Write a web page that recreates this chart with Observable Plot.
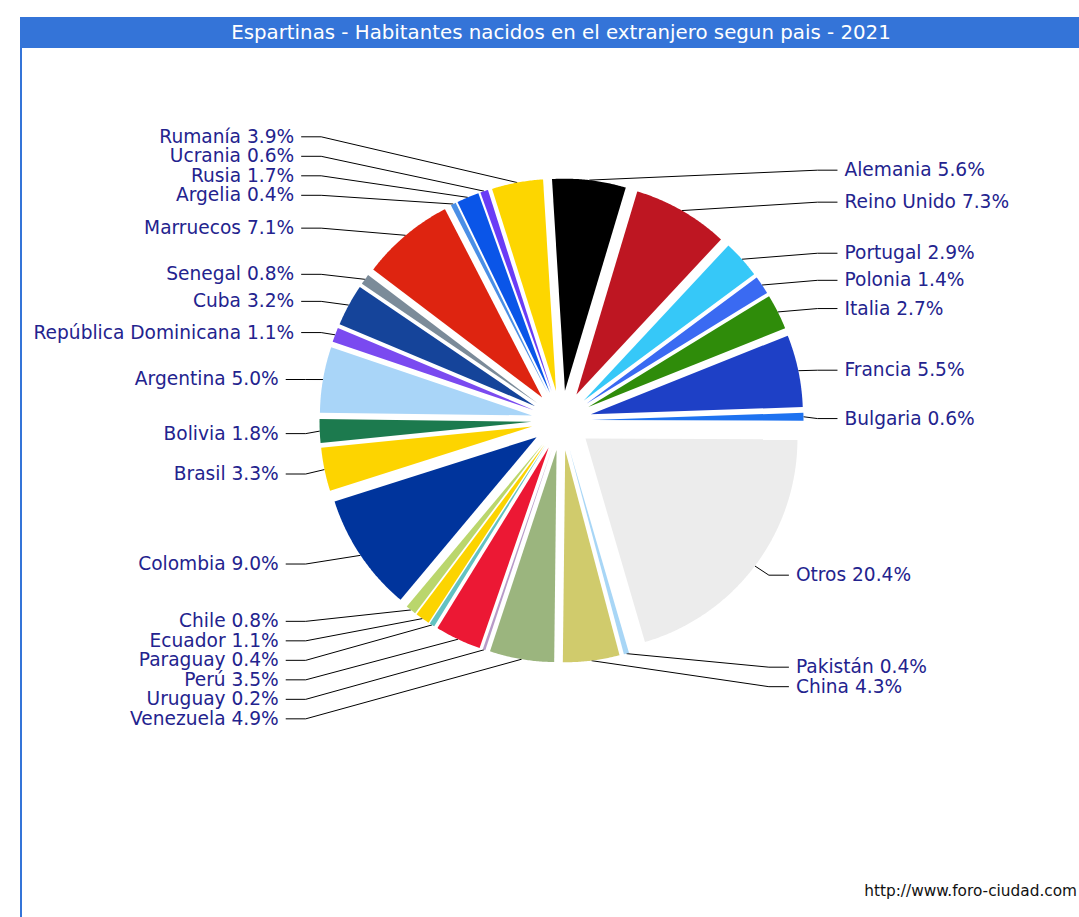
<!DOCTYPE html>
<html><head><meta charset="utf-8">
<script src="https://cdn.jsdelivr.net/npm/d3@7"></script>
<script src="https://cdn.jsdelivr.net/npm/@observablehq/plot@0.6"></script>
<style>
html,body{margin:0;padding:0;background:#fff;overflow:hidden;width:1079px;height:917px;}
#title{position:absolute;left:20px;top:17px;width:1082px;height:31px;background:#3474d8;color:#fff;font-family:"DejaVu Sans",sans-serif;font-size:16px;line-height:31px;text-align:center;white-space:nowrap;}
#title span{display:inline-block;}
#frame{position:absolute;left:20px;top:48px;width:1082px;height:869px;border-left:2px solid #3474d8;}
#chart{position:absolute;left:0;top:0;}
#source{position:absolute;right:2px;top:882px;font-family:"DejaVu Sans",sans-serif;font-size:14px;color:#111;white-space:nowrap;}
</style></head><body>
<div id="title"><span id="ttext">Espartinas - Habitantes nacidos en el extranjero segun pais - 2021</span></div>
<div id="frame"><div id="chart"></div></div>
<div id="source">http://www.foro-ciudad.com</div>
<script>
// ---- data (clockwise from the top) ----
const countries = ["Alemania","Reino Unido","Portugal","Polonia","Italia","Francia","Bulgaria","Otros","Pakistán","China","Venezuela","Uruguay","Perú","Paraguay","Ecuador","Chile","Colombia","Brasil","Bolivia","Argentina","República Dominicana","Cuba","Senegal","Marruecos","Argelia","Rusia","Ucrania","Rumanía"];
const shares = [5.6,7.3,2.9,1.4,2.7,5.5,0.6,20.4,0.4,4.3,4.9,0.2,3.5,0.4,1.1,0.8,9.0,3.3,1.8,5.0,1.1,3.2,0.8,7.1,0.4,1.7,0.6,3.9];
const palette = ["#000000","#be1622","#36c8f8","#3a6af2","#2f8c0a","#1e40c6","#1e72f0","#ececec","#a8d6f6","#d0cb6c","#9bb57e","#b89ac8","#ec1834","#62c2c2","#fcd400","#bad66c","#00349c","#fdd400","#1c7a4e","#a9d5f8","#7a4af0","#15449a","#7b8b99","#de2410","#4a8fe6","#0a55e8","#6a3cf6","#fdd600"];

// ---- layout (px in the svg) ----
const W = 1082, H = 869;
const CX = 539, CY = 372;
const R = 212, EXPLODE = 30, LABEL_R = 254, LABEL_DY = 2, GAP = 19.5, COL_PAD = 41;
const START = -3.5 * Math.PI / 180;

const arcs = d3.pie().sort(null).startAngle(START).endAngle(START + 2 * Math.PI)(shares);
const slices = arcs.map((a, i) => ({name: countries[i], value: shares[i], a0: a.startAngle, a1: a.endAngle, mid: (a.startAngle + a.endAngle) / 2}));

// slice polygons, in units of the pie radius (y grows downward)
const slicePts = [];
for (const s of slices) {
  const ox = EXPLODE / R * Math.sin(s.mid), oy = -EXPLODE / R * Math.cos(s.mid);
  slicePts.push({name: s.name, x: ox, y: oy});
  const n = Math.max(2, Math.ceil((s.a1 - s.a0) / (0.4 * Math.PI / 180)));
  for (let j = 0; j <= n; j++) {
    const a = s.a0 + (s.a1 - s.a0) * j / n;
    slicePts.push({name: s.name, x: ox + Math.sin(a), y: oy - Math.cos(a)});
  }
}

// label placement
const deg = a => ((a * 180 / Math.PI) % 360 + 360) % 360;
for (const s of slices) {
  const dg = deg(s.mid);
  s.side = Math.sin(s.mid) >= 0 ? "right" : "left";
  s.top = s.side === "right" ? dg < 90 : dg >= 285;
  s.ly = -LABEL_R * Math.cos(s.mid) + LABEL_DY;
  s.ex = (R + EXPLODE) * Math.sin(s.mid);
  s.ey = -(R + EXPLODE) * Math.cos(s.mid);
}
const groups = d3.groups(slices, s => s.side + (s.top ? "T" : "B"));
for (const [key, g] of groups) {
  const top = key.endsWith("T");
  g.sort((a, b) => top ? b.ly - a.ly : a.ly - b.ly);
  for (let i = 1; i < g.length; i++) {
    g[i].ly = top ? Math.min(g[i].ly, g[i - 1].ly - GAP) : Math.max(g[i].ly, g[i - 1].ly + GAP);
  }
  const col = g[0].side === "right" ? d3.max(g, s => s.ex) + COL_PAD : d3.min(g, s => s.ex) - COL_PAD;
  for (const s of g) s.col = col;
}
const labels = slices.map(s => ({name: s.name, side: s.side, x: s.col / R, y: s.ly / R, text: `${s.name} ${s.value.toFixed(1)}%`}));
const leaderPts = [];
for (const s of slices) {
  const sg = s.side === "right" ? -1 : 1;
  leaderPts.push({name: s.name, x: s.ex / R, y: s.ey / R});
  leaderPts.push({name: s.name, x: (s.col + sg * 27) / R, y: s.ly / R});
  leaderPts.push({name: s.name, x: (s.col + sg * 7) / R, y: s.ly / R});
}

const labelStyle = {x: "x", y: "y", text: "text", fill: "#23238e", fontSize: 18.6, fontFamily: "DejaVu Sans", lineAnchor: "middle"};
const chart = Plot.plot({
  width: W, height: H, margin: 0,
  x: {axis: null, domain: [-CX / R, (W - CX) / R], range: [0, W]},
  y: {axis: null, domain: [-CY / R, (H - CY) / R], range: [0, H]},
  color: {domain: countries, range: palette},
  style: {background: "transparent", overflow: "visible"},
  marks: [
    Plot.line(leaderPts, {x: "x", y: "y", z: "name", stroke: "#000", strokeWidth: 1, strokeLinecap: "butt", strokeLinejoin: "miter"}),
    Plot.line(slicePts, {x: "x", y: "y", z: "name", fill: "name", stroke: "none"}),
    Plot.text(labels.filter(d => d.side === "right"), {...labelStyle, textAnchor: "start"}),
    Plot.text(labels.filter(d => d.side === "left"), {...labelStyle, textAnchor: "end"})
  ]
});
document.getElementById("chart").appendChild(chart);

// fit title text width to the band
const t = document.getElementById("ttext");
const tw = t.getBoundingClientRect().width;
t.style.fontSize = (16 * 660 / tw).toFixed(2) + "px";
const src = document.getElementById("source");
src.style.fontSize = (14 * 213 / src.getBoundingClientRect().width).toFixed(2) + "px";
</script>
</body></html>
